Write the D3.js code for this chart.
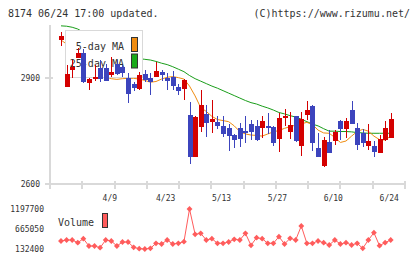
<!DOCTYPE html>
<html>
<head>
<meta charset="utf-8">
<script src="https://cdn.jsdelivr.net/npm/d3@7"></script>
<style>
  body { margin: 0; background: #fff; }
  svg { display: block; }
  text { font-family: "DejaVu Sans Mono", monospace; fill: #333; }
</style>
</head>
<body>
<div id="chart"></div>
<script>
// Daily candles, oldest first (60 sessions)
const opens = [3009,2876,2924,2958,2971,2888,2899,2928,2928,2910, 2941,2932,2901,2885,2870,2912,2901,2905,2919,2901,
  2905,2875,2870,2796,2678,2763,2798,2777,2776,2765, 2760,2739,2760,2750,2769,2765,2760,2765,2763,2729,
  2788,2748,2793,2709,2796,2821,2702,2652,2719,2723, 2779,2755,2810,2760,2744,2709,2708,2689,2725,2731];
const highs = [3031,2938,2952,2985,2983,2900,2938,2952,2940,2961, 2952,2938,2914,2890,2919,2924,2914,2945,2924,2914,
  2922,2884,2897,2834,2794,2867,2824,2838,2793,2793, 2770,2741,2772,2793,2782,2782,2793,2801,2765,2801,
  2812,2804,2793,2804,2836,2824,2745,2733,2753,2753, 2782,2788,2836,2774,2755,2770,2723,2739,2779,2801];
const lows = [2992,2876,2901,2958,2886,2867,2892,2890,2892,2905, 2909,2903,2831,2865,2868,2890,2853,2905,2893,2867,
  2867,2853,2838,2657,2676,2748,2734,2746,2756,2734, 2694,2701,2706,2716,2725,2723,2730,2741,2708,2692,
  2765,2729,2720,2680,2782,2694,2677,2649,2689,2711, 2725,2730,2771,2696,2706,2696,2677,2689,2723,2731];
const closes = [3020,2912,2933,2972,2889,2898,2905,2898,2893,2918, 2911,2914,2856,2873,2909,2895,2890,2920,2909,2893,
  2879,2865,2895,2678,2790,2824,2774,2784,2765,2743, 2737,2725,2729,2748,2748,2725,2779,2760,2717,2788,
  2793,2767,2723,2784,2810,2717,2678,2725,2689,2748, 2756,2779,2771,2711,2717,2723,2692,2729,2760,2784];

// Moving averages
const ma5 = [3009,2997,2980,2975,2946,2921,2918,2912,2904,2899, 2897,2899,2900,2900,2898,2894,2889,2891,2898,2903,
  2905,2902,2898,2878,2850,2817,2806,2792,2783,2780, 2777,2765,2749,2742,2739,2738,2736,2742,2748,2752,
  2758,2763,2767,2771,2775,2769,2753,2745,2744,2732, 2718,2722,2736,2749,2755,2750,2736,2726,2725,2736];
const ma25 = [3049,3048,3045,3040,3031,3023,3014,3006,2997,2989, 2980,2972,2965,2959,2956,2954,2952,2948,2943,2939,
  2933,2926,2919,2908,2899,2892,2885,2878,2872,2865, 2858,2851,2844,2837,2831,2827,2821,2816,2810,2803,
  2799,2794,2790,2784,2777,2770,2765,2757,2750,2750, 2749,2749,2748,2746,2745,2744,2744,2744,2744,2744];

// Volume
const volumes = [345500,372100,372100,300200,406700,212300,212300,167000,372100,345500,
  212300,318800,318800,177700,140400,132400,151000,284200,265600,372100,
  265600,284200,326800,1197700,523900,550500,372100,406700,284200,284200,
  318800,390700,372100,550500,230900,433300,406700,284200,284200,460000,
  265600,417400,372100,744900,284200,284200,345500,300200,238900,372100,
  265600,300200,238900,284200,151000,372100,566500,220300,300200,372100];

// Date labels (every 10th session)
const dateIdx = [9, 19, 29, 39, 49, 59];
const dateLabels = ["4/9", "4/23", "5/13", "5/27", "6/10", "6/24"];
const priceTicks = [2600, 2900];

const width = 420;
const height = 259;
const upColor = "#d40000";
const downColor = "#3c44bd";
const volColor = "#ff5c5c";

const candles = opens.map((o, i) => ({
  i: i, open: o, high: highs[i], low: lows[i], close: closes[i]
}));

const svg = d3.select("#chart")
  .append("svg")
    .attr("width", width)
    .attr("height", height);

// Scales
const x = d3.scaleLinear().domain([0, opens.length - 1]).range([61, 390.7]);
const y = d3.scaleLinear().domain([2600, 3050]).range([184, 25.5]);
const yVol = d3.scaleLinear().domain([d3.min(volumes), d3.max(volumes)]).range([249, 209]);

// Header
svg.append("text")
  .attr("x", 8).attr("y", 17)
  .attr("font-size", 10)
  .text("8174 06/24 17:00 updated.");
svg.append("text")
  .attr("x", 410).attr("y", 17)
  .attr("font-size", 10)
  .attr("text-anchor", "end")
  .text("(C)https://www.rizumu.net/");

// Axes frame
const axisG = svg.append("g")
  .attr("stroke", "#d9d9d9")
  .attr("stroke-width", 2)
  .attr("shape-rendering", "crispEdges");
axisG.append("line").attr("x1", 50).attr("x2", 50).attr("y1", 25).attr("y2", 189);
axisG.append("line").attr("x1", 45).attr("x2", 406).attr("y1", 184).attr("y2", 184);
axisG.selectAll(".ytick")
  .data(priceTicks)
  .join("line")
    .attr("x1", 45).attr("x2", 53)
    .attr("y1", d => y(d)).attr("y2", d => y(d));
axisG.selectAll(".xtick")
  .data(d3.range(12))
  .join("line")
    .attr("x1", d => 50 + d * 32.27).attr("x2", d => 50 + d * 32.27)
    .attr("y1", 181).attr("y2", 189);

// Price labels
svg.selectAll(".plabel")
  .data(priceTicks)
  .join("text")
    .attr("x", 40).attr("y", d => y(d) + 3)
    .attr("text-anchor", "end")
    .attr("font-size", 8)
    .text(d => d);

// Date labels
svg.selectAll(".dlabel")
  .data(dateIdx)
  .join("text")
    .attr("x", d => x(d) - 1.5).attr("y", 201)
    .attr("text-anchor", "middle")
    .attr("font-size", 8)
    .text((d, i) => dateLabels[i]);

// Moving average lines
const maLine = d3.line().x((d, i) => x(i)).y(d => y(d));
svg.append("path")
  .attr("d", maLine(ma25))
  .attr("fill", "none")
  .attr("stroke", "#1a9e1a")
  .attr("stroke-width", 1);
svg.append("path")
  .attr("d", maLine(ma5))
  .attr("fill", "none")
  .attr("stroke", "#f08c10")
  .attr("stroke-width", 1);

// Legend box (drawn over lines, under candles)
const legend = svg.append("g");
legend.append("rect")
  .attr("x", 65.5).attr("y", 30.5)
  .attr("width", 77).attr("height", 47)
  .attr("fill", "#fff")
  .attr("stroke", "#d9d9d9");
[["5-day MA", "#f08c10"], ["25-day MA", "#1aaa1a"]].forEach((d, i) => {
  legend.append("text")
    .attr("x", 124).attr("y", 50 + i * 16.5)
    .attr("text-anchor", "end")
    .attr("font-size", 10)
    .text(d[0]);
  legend.append("rect")
    .attr("x", 131.5).attr("y", 37.5 + i * 16.5)
    .attr("width", 6).attr("height", 14)
    .attr("fill", d[1])
    .attr("stroke", "#333");
});

// Candles
const candleG = svg.append("g").attr("shape-rendering", "crispEdges");
candleG.selectAll(".wick")
  .data(candles)
  .join("line")
    .attr("x1", d => Math.round(x(d.i)) + 0.5)
    .attr("x2", d => Math.round(x(d.i)) + 0.5)
    .attr("y1", d => y(d.high))
    .attr("y2", d => y(d.low))
    .attr("stroke", d => d.close >= d.open ? upColor : downColor)
    .attr("stroke-width", 1.2);
candleG.selectAll(".body")
  .data(candles)
  .join("rect")
    .attr("x", d => Math.round(x(d.i)) - 2)
    .attr("y", d => y(Math.max(d.open, d.close)))
    .attr("width", 5)
    .attr("height", d => Math.max(1.5, Math.abs(y(d.open) - y(d.close))))
    .attr("fill", d => d.close >= d.open ? upColor : downColor);

// Volume panel labels
const volTicks = [d3.max(volumes), (d3.max(volumes) + d3.min(volumes)) / 2, d3.min(volumes)];
svg.selectAll(".vlabel")
  .data(volTicks)
  .join("text")
    .attr("x", 44).attr("y", d => yVol(d) + 3)
    .attr("text-anchor", "end")
    .attr("font-size", 8)
    .text(d => d);

svg.append("text")
  .attr("x", 58).attr("y", 226)
  .attr("font-size", 10)
  .text("Volume");
svg.append("rect")
  .attr("x", 102.5).attr("y", 213.5)
  .attr("width", 5).attr("height", 14)
  .attr("fill", volColor)
  .attr("stroke", "#333");

// Volume line with diamond markers
svg.append("path")
  .attr("d", d3.line().x((d, i) => x(i)).y(d => yVol(d))(volumes))
  .attr("fill", "none")
  .attr("stroke", volColor)
  .attr("stroke-width", 1);
svg.selectAll(".vmark")
  .data(volumes)
  .join("path")
    .attr("d", d3.symbol(d3.symbolSquare, 17))
    .attr("transform", (d, i) => `translate(${x(i)},${yVol(d)}) rotate(45)`)
    .attr("fill", volColor);
</script>
</body>
</html>
